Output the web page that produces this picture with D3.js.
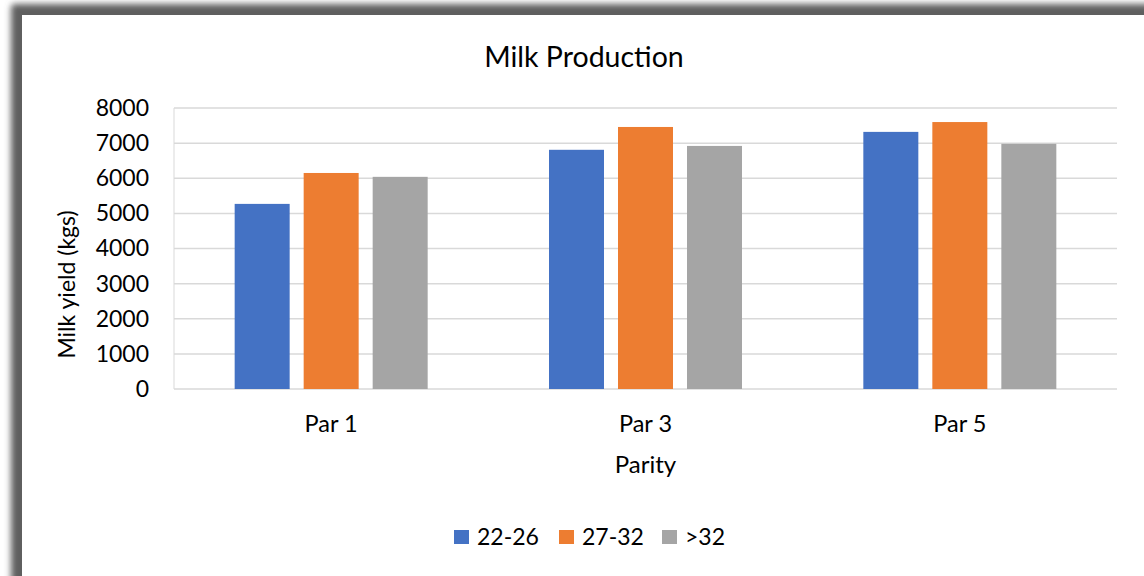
<!DOCTYPE html>
<html>
<head>
<meta charset="utf-8">
<script src="https://cdn.jsdelivr.net/npm/d3@7"></script>
<style>
  html, body { margin: 0; padding: 0; background: #fff; }
  svg { display: block; font-family: Lato, "Open Sans", sans-serif; }
</style>
</head>
<body>
<svg id="chart" width="1144" height="576"></svg>
<script>
// ── Data ─────────────────────────────────────────────────────────────────────
const categories = ["Par 1", "Par 3", "Par 5"];
const seriesNames = ["22-26", "27-32", ">32"];
const values_22_26 = [5270, 6810, 7320];
const values_27_32 = [6150, 7460, 7600];
const values_gt32  = [6040, 6920, 6980];
const yTicks = [0, 1000, 2000, 3000, 4000, 5000, 6000, 7000, 8000];
const COLOR = { "22-26": "#4472c4", "27-32": "#ed7d31", ">32": "#a5a5a5" };

const series = [
  { name: "22-26", values: values_22_26 },
  { name: "27-32", values: values_27_32 },
  { name: ">32",   values: values_gt32 }
];

const FONT = "Lato, 'Open Sans', sans-serif";

// ── Frame with shadow ────────────────────────────────────────────────────────
const svg = d3.select("#chart");
const defs = svg.append("defs");
const blur = defs.append("filter").attr("id", "shadow")
  .attr("x", "-5%").attr("y", "-5%").attr("width", "110%").attr("height", "110%");
blur.append("feGaussianBlur").attr("stdDeviation", 3);

svg.append("rect")
  .attr("x", 11).attr("y", 4).attr("width", 1160).attr("height", 600)
  .attr("rx", 4)
  .attr("fill", "#5f5f5f").attr("filter", "url(#shadow)");
svg.append("rect")
  .attr("x", 22).attr("y", 15).attr("width", 1140).attr("height", 600)
  .attr("fill", "#fff");

// ── Plot ─────────────────────────────────────────────────────────────────────
const plot = { left: 174, right: 1117, top: 108, bottom: 389 };
const w = plot.right - plot.left, h = plot.bottom - plot.top;
const g = svg.append("g").attr("transform", `translate(${plot.left},${plot.top})`);

const x0 = d3.scaleBand().domain(categories).range([0, w]).padding(0);
const groupW = x0.bandwidth() * 0.614;
const x1 = d3.scaleBand().domain(seriesNames)
  .range([-groupW / 2, groupW / 2]).paddingInner(0.203).paddingOuter(0);
const y = d3.scaleLinear().domain([0, 8000]).range([h, 0]);

// gridlines
g.append("g").attr("class", "grid")
  .selectAll("line").data(yTicks).join("line")
  .attr("x1", 0).attr("x2", w)
  .attr("y1", d => y(d)).attr("y2", d => y(d))
  .attr("stroke", "#d9d9d9").attr("stroke-width", 1.5);
g.append("line")
  .attr("x1", 0).attr("x2", 0).attr("y1", 0).attr("y2", h)
  .attr("stroke", "#d9d9d9").attr("stroke-width", 1);

// y axis labels
const yAxis = g.append("g")
  .call(d3.axisLeft(y).tickValues(yTicks).tickFormat(d3.format("d"))
    .tickSize(0).tickPadding(25));
yAxis.select(".domain").remove();
yAxis.selectAll("text")
  .attr("font-size", 23).attr("fill", "#000").attr("font-family", FONT);

// bars
series.forEach(s => {
  g.selectAll(null)
    .data(s.values)
    .join("rect")
    .attr("x", (v, i) => x0(categories[i]) + x0.bandwidth() / 2 + x1(s.name))
    .attr("width", x1.bandwidth())
    .attr("y", v => y(v))
    .attr("height", v => h - y(v))
    .attr("fill", COLOR[s.name]);
});

// x axis labels
const xAxis = g.append("g").attr("transform", `translate(0,${h})`)
  .call(d3.axisBottom(x0).tickSize(0));
xAxis.select(".domain").remove();
xAxis.selectAll("text")
  .attr("y", 43).attr("dy", 0)
  .attr("font-size", 23.5).attr("fill", "#000").attr("font-family", FONT);

// titles
svg.append("text")
  .attr("x", 584).attr("y", 67)
  .attr("text-anchor", "middle").attr("font-size", 28.5).attr("fill", "#000")
  .text("Milk Production");
svg.append("text")
  .attr("x", plot.left + w / 2).attr("y", 473)
  .attr("text-anchor", "middle").attr("font-size", 24).attr("fill", "#000")
  .text("Parity");
svg.append("text")
  .attr("transform", `translate(75,${(plot.top + plot.bottom) / 2 + 36}) rotate(-90)`)
  .attr("text-anchor", "middle").attr("font-size", 23).attr("fill", "#000")
  .text("Milk yield (kgs)");

// legend
const legendX = [454, 559, 662];
const legend = svg.append("g");
seriesNames.forEach((name, i) => {
  const lg = legend.append("g").attr("transform", `translate(${legendX[i]},530)`);
  lg.append("rect").attr("width", 15).attr("height", 14).attr("fill", COLOR[name]);
  lg.append("text").attr("x", 23).attr("y", 15)
    .attr("font-size", 23).attr("fill", "#000").text(name);
});
</script>
</body>
</html>
